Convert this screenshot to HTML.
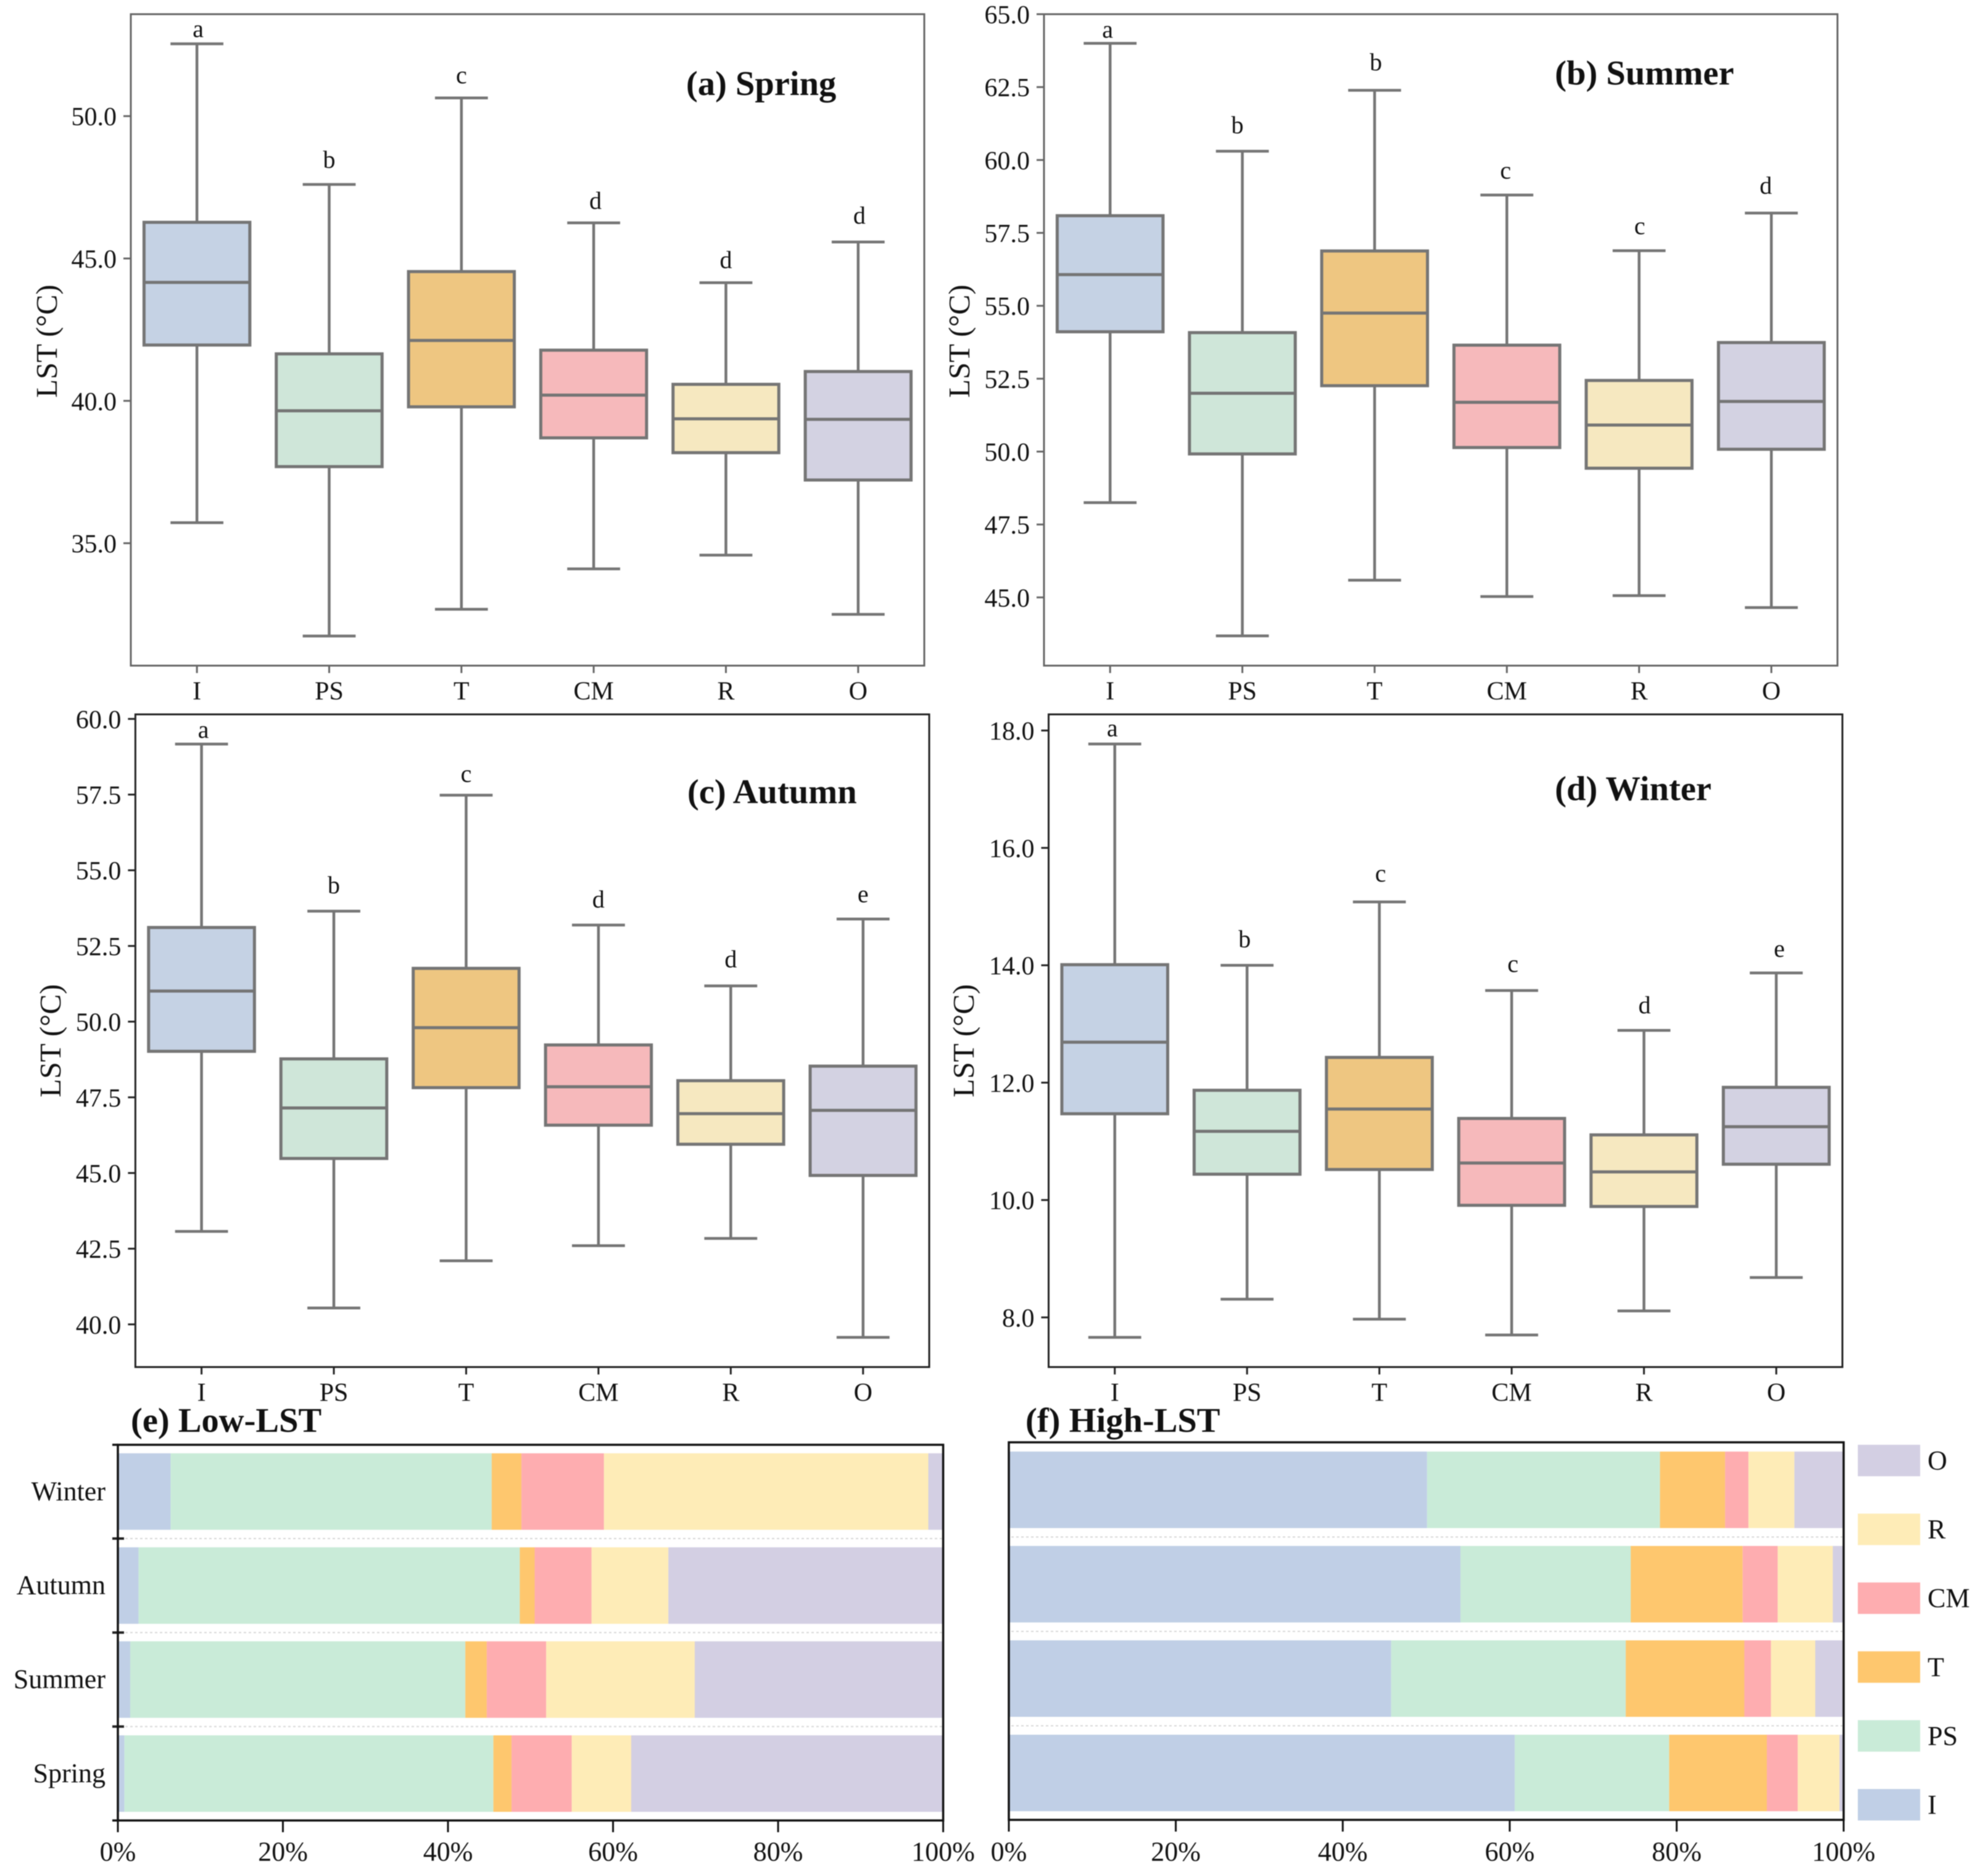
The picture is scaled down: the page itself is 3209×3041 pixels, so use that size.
<!DOCTYPE html>
<html lang="en">
<head>
<meta charset="utf-8">
<title>Seasonal LST boxplots and land cover shares</title>
<style>
html,body{margin:0;padding:0;background:#fff;}
svg{display:block;filter:blur(0.8px);}
text{font-family:"Liberation Serif","Times New Roman",serif;fill:#111;}
</style>
</head>
<body>
<svg id="figure" xmlns="http://www.w3.org/2000/svg" width="3209" height="3041" viewBox="0 0 3209 3041"></svg>
<script>
const categories = ['I', 'PS', 'T', 'CM', 'R', 'O'];
const seasons = ['Spring', 'Summer', 'Autumn', 'Winter'];
const percentTicks = [0, 20, 40, 60, 80, 100];

const springHigh = [52.54, 47.6, 50.64, 46.25, 44.15, 45.58];
const springQ3 = [46.27, 41.65, 44.54, 41.78, 40.58, 41.03];
const springMedian = [44.16, 39.65, 42.12, 40.2, 39.37, 39.35];
const springQ1 = [41.96, 37.69, 39.79, 38.7, 38.18, 37.22];
const springLow = [35.72, 31.74, 32.68, 34.1, 34.58, 32.5];
const springLetters = ['a', 'b', 'c', 'd', 'd', 'd'];
const springLetterLevels = [53.02, 48.42, 51.39, 46.98, 44.9, 46.46];
const springTicks = [35, 40, 45, 50];

const summerHigh = [64.0, 60.3, 62.39, 58.8, 56.89, 58.18];
const summerQ3 = [58.09, 54.08, 56.88, 53.65, 52.44, 53.74];
const summerMedian = [56.07, 52.0, 54.75, 51.69, 50.91, 51.72];
const summerQ1 = [54.11, 49.92, 52.26, 50.14, 49.43, 50.08];
const summerLow = [48.25, 43.68, 45.59, 45.03, 45.06, 44.65];
const summerLetters = ['a', 'b', 'b', 'c', 'c', 'd'];
const summerLetterLevels = [64.43, 61.15, 63.31, 59.59, 57.69, 59.08];
const summerTicks = [45, 47.5, 50, 52.5, 55, 57.5, 60, 62.5, 65];

const autumnHigh = [59.17, 53.65, 57.48, 53.19, 51.18, 53.39];
const autumnQ3 = [53.11, 48.77, 51.76, 49.23, 48.05, 48.53];
const autumnMedian = [51.01, 47.15, 49.8, 47.85, 46.96, 47.07];
const autumnQ1 = [49.02, 45.48, 47.82, 46.58, 45.95, 44.92];
const autumnLow = [43.07, 40.54, 42.1, 42.6, 42.84, 39.57];
const autumnLetters = ['a', 'b', 'c', 'd', 'd', 'e'];
const autumnLetterLevels = [59.6, 54.46, 58.14, 54.0, 52.02, 54.17];
const autumnTicks = [40, 42.5, 45, 47.5, 50, 52.5, 55, 57.5, 60];

const winterHigh = [17.77, 14.0, 15.08, 13.57, 12.89, 13.87];
const winterQ3 = [14.01, 11.87, 12.43, 11.39, 11.11, 11.92];
const winterMedian = [12.69, 11.17, 11.55, 10.63, 10.48, 11.25];
const winterQ1 = [11.47, 10.44, 10.52, 9.91, 9.89, 10.61];
const winterLow = [7.66, 8.31, 7.97, 7.7, 8.11, 8.68];
const winterLetters = ['a', 'b', 'c', 'c', 'd', 'e'];
const winterLetterLevels = [18.02, 14.42, 15.54, 14.0, 13.3, 14.26];
const winterTicks = [8, 10, 12, 14, 16, 18];

const lowSpringShares = [0.8, 44.7, 2.2, 7.3, 7.2, 37.8];
const lowSummerShares = [1.5, 40.6, 2.6, 7.2, 18.0, 30.1];
const lowAutumnShares = [2.5, 46.2, 1.8, 6.9, 9.3, 33.3];
const lowWinterShares = [6.4, 38.9, 3.6, 10.0, 39.3, 1.8];

const highSpringShares = [60.6, 18.5, 11.7, 3.7, 5.0, 0.5];
const highSummerShares = [45.8, 28.1, 14.2, 3.2, 5.3, 3.4];
const highAutumnShares = [54.1, 20.4, 13.4, 4.2, 6.6, 1.3];
const highWinterShares = [50.1, 27.9, 7.8, 2.8, 5.5, 5.9];

const boxColors = ['#c5d2e4', '#cfe6d9', '#eec681', '#f6b9bb', '#f6e8c0', '#d3d2e2'];
const barColors = ['#c0cfe6', '#c9ebd8', '#fec76e', '#feadb0', '#feecb7', '#d3cfe3'];

const svg = document.getElementById('figure');
const NS = 'http://www.w3.org/2000/svg';
const LINE = '#757575';

function make(parent, tag, attrs, content) {
  const el = document.createElementNS(NS, tag);
  for (const key in attrs) el.setAttribute(key, attrs[key]);
  if (content !== undefined) el.textContent = content;
  parent.appendChild(el);
  return el;
}

function drawBoxPanel(p) {
  const g = make(svg, 'g', {});
  
  

  const yScale = v => p.bottom - (v - p.yMin) / (p.yMax - p.yMin) * (p.bottom - p.top);
  const band = (p.right - p.left) / categories.length;
  const xScale = i => p.left + band * (i + 0.5);

  categories.forEach((name, i) => {
    const x = xScale(i);
    const boxGroup = make(g, 'g', {});
    
    

    const upper = make(boxGroup, 'line', { x1: x, x2: x, y1: yScale(p.q3[i]), y2: yScale(p.high[i]), stroke: LINE, 'stroke-width': 4.5 });
    
    

    const lower = make(boxGroup, 'line', { x1: x, x2: x, y1: yScale(p.q1[i]), y2: yScale(p.low[i]), stroke: LINE, 'stroke-width': 4.5 });
    
    

    const capTop = make(boxGroup, 'line', { x1: x - band * 0.2, x2: x + band * 0.2, y1: yScale(p.high[i]), y2: yScale(p.high[i]), stroke: LINE, 'stroke-width': 4.5 });
    
    

    const capBottom = make(boxGroup, 'line', { x1: x - band * 0.2, x2: x + band * 0.2, y1: yScale(p.low[i]), y2: yScale(p.low[i]), stroke: LINE, 'stroke-width': 4.5 });
    
    

    const box = make(boxGroup, 'rect', { x: x - band * 0.4, y: yScale(p.q3[i]), width: band * 0.8, height: yScale(p.q1[i]) - yScale(p.q3[i]), fill: boxColors[i], stroke: LINE, 'stroke-width': 5 });
    
    

    const median = make(boxGroup, 'line', { x1: x - band * 0.4, x2: x + band * 0.4, y1: yScale(p.median[i]), y2: yScale(p.median[i]), stroke: LINE, 'stroke-width': 5 });
    
    

    const letter = make(g, 'text', { x: x + p.letterNudge[i], y: yScale(p.letterLevels[i]) + 11, 'text-anchor': 'middle', 'font-size': 40 }, p.letters[i]);
    
    

    const tick = make(g, 'line', { x1: x, x2: x, y1: p.bottom, y2: p.bottom + 12, stroke: p.frame, 'stroke-width': 3 });
    
    

    const label = make(g, 'text', { x: x, y: p.bottom + 55, 'text-anchor': 'middle', 'font-size': 42 }, name);
    
    
  });

  p.ticks.forEach(v => {
    const tick = make(g, 'line', { x1: p.left - 12, x2: p.left, y1: yScale(v), y2: yScale(v), stroke: p.frame, 'stroke-width': 3 });
    
    

    const label = make(g, 'text', { x: p.left - 23, y: yScale(v) + 15, 'text-anchor': 'end', 'font-size': 42 }, v.toFixed(1));
    
    
  });

  const frame = make(g, 'rect', { x: p.left, y: p.top, width: p.right - p.left, height: p.bottom - p.top, fill: 'none', stroke: p.frame, 'stroke-width': 3 });
  
  

  const yTitle = make(g, 'text', { transform: 'translate(' + p.titleX + ',' + p.titleY + ') rotate(-90)', 'text-anchor': 'middle', 'font-size': 49 }, 'LST (°C)');
  
  

  const title = make(g, 'text', { x: p.headX, y: p.headY, 'font-size': 56.5, 'font-weight': 'bold' }, p.heading);
  
  
}

function drawBarPanel(p) {
  const g = make(svg, 'g', {});
  
  

  const xScale = v => p.left + v / 100 * (p.right - p.left);
  const yBand = i => p.firstCenter - i * p.pitch;

  p.rows.forEach((row, r) => {
    let start = 0;
    row.forEach((share, c) => {
      const seg = make(g, 'rect', { x: xScale(start), y: yBand(r) - p.barH / 2, width: xScale(start + share) - xScale(start), height: p.barH, fill: barColors[c] });
      
      
      start += share;
    });

    if (p.showLabels) {
      const label = make(g, 'text', { x: p.left - 20, y: yBand(r) + 14, 'text-anchor': 'end', 'font-size': 44 }, seasons[r]);
      
      
    }

    if (r < p.rows.length - 1) {
      const sep = make(g, 'line', { x1: p.left + 4, x2: p.right - 2, y1: yBand(r + 0.5), y2: yBand(r + 0.5), stroke: '#d8d8d8', 'stroke-width': 2, 'stroke-dasharray': '4 4' });
      
      

      if (p.showLabels) {
        const rowTick = make(g, 'line', { x1: p.left - 9, x2: p.left + 10, y1: yBand(r + 0.5), y2: yBand(r + 0.5), stroke: '#222', 'stroke-width': 4 });
        
        
      }
    }
  });

  percentTicks.forEach(v => {
    const tick = make(g, 'line', { x1: xScale(v), x2: xScale(v), y1: p.bottom, y2: p.bottom + 19, stroke: '#111', 'stroke-width': 3 });
    
    

    const label = make(g, 'text', { x: xScale(v), y: 3016, 'text-anchor': 'middle', 'font-size': 44 }, v + '%');
    
    
  });

  const frame = make(g, 'rect', { x: p.left, y: p.top, width: p.right - p.left, height: p.bottom - p.top, fill: 'none', stroke: '#111', 'stroke-width': 3.5 });
  
  

  if (p.showLabels) {
    const topExt = make(g, 'line', { x1: p.left - 9, x2: p.left, y1: p.top, y2: p.top, stroke: '#111', 'stroke-width': 3.5 });
    
    

    const bottomExt = make(g, 'line', { x1: p.left - 9, x2: p.left, y1: p.bottom, y2: p.bottom, stroke: '#111', 'stroke-width': 3.5 });
    
    
  }

  const title = make(g, 'text', { x: p.headX, y: 2321, 'font-size': 56.5, 'font-weight': 'bold' }, p.heading);
  
  
}

function drawLegend() {
  const g = make(svg, 'g', {});
  
  
  const rowPitch = 111.6;
  categories.forEach((name, i) => {
    const y = 2900 - i * rowPitch;
    const swatch = make(g, 'rect', { x: 3011, y: y, width: 101, height: 51, fill: barColors[i] });
    
    

    const label = make(g, 'text', { x: 3124, y: y + 40, 'font-size': 44 }, name);
    
    
  });
}

drawBoxPanel({ id: 'spring', heading: '(a) Spring', left: 212, right: 1498, top: 23, bottom: 1079, yMin: 30.70, yMax: 53.58, frame: '#666', ticks: springTicks, high: springHigh, q3: springQ3, median: springMedian, q1: springQ1, low: springLow, letters: springLetters, letterLevels: springLetterLevels, letterNudge: [2, 0, 0, 3, 0, 2], titleX: 92, titleY: 553, headX: 1112, headY: 154 });
drawBoxPanel({ id: 'summer', heading: '(b) Summer', left: 1692, right: 2978, top: 23, bottom: 1079, yMin: 42.66, yMax: 65, frame: '#666', ticks: summerTicks, high: summerHigh, q3: summerQ3, median: summerMedian, q1: summerQ1, low: summerLow, letters: summerLetters, letterLevels: summerLetterLevels, letterNudge: [-4, -8, 2, -2, 1, -9], titleX: 1571, titleY: 553, headX: 2520, headY: 137 });
drawBoxPanel({ id: 'autumn', heading: '(c) Autumn', left: 219.4, right: 1506, top: 1158, bottom: 2216, yMin: 38.59, yMax: 60.15, frame: '#222', ticks: autumnTicks, high: autumnHigh, q3: autumnQ3, median: autumnMedian, q1: autumnQ1, low: autumnLow, letters: autumnLetters, letterLevels: autumnLetterLevels, letterNudge: [3, 0, 0, 0, 0, 0], titleX: 98, titleY: 1687, headX: 1114, headY: 1302 });
drawBoxPanel({ id: 'winter', heading: '(d) Winter', left: 1699.5, right: 2986, top: 1158, bottom: 2216, yMin: 7.154, yMax: 18.275, frame: '#222', ticks: winterTicks, high: winterHigh, q3: winterQ3, median: winterMedian, q1: winterQ1, low: winterLow, letters: winterLetters, letterLevels: winterLetterLevels, letterNudge: [-4, -4, 2, 2, 1, 5], titleX: 1578, titleY: 1687, headX: 2520, headY: 1297 });

drawBarPanel({ id: 'low-lst', heading: '(e) Low-LST', left: 191, right: 1528.6, top: 2342, bottom: 2951, firstCenter: 2875, pitch: 152.4, barH: 124, showLabels: true, headX: 212, rows: [lowSpringShares, lowSummerShares, lowAutumnShares, lowWinterShares] });
drawBarPanel({ id: 'high-lst', heading: '(f) High-LST', left: 1635, right: 2988, top: 2338, bottom: 2950, firstCenter: 2874, pitch: 153, barH: 124, showLabels: false, headX: 1662, rows: [highSpringShares, highSummerShares, highAutumnShares, highWinterShares] });

drawLegend();
</script>
</body>
</html>
